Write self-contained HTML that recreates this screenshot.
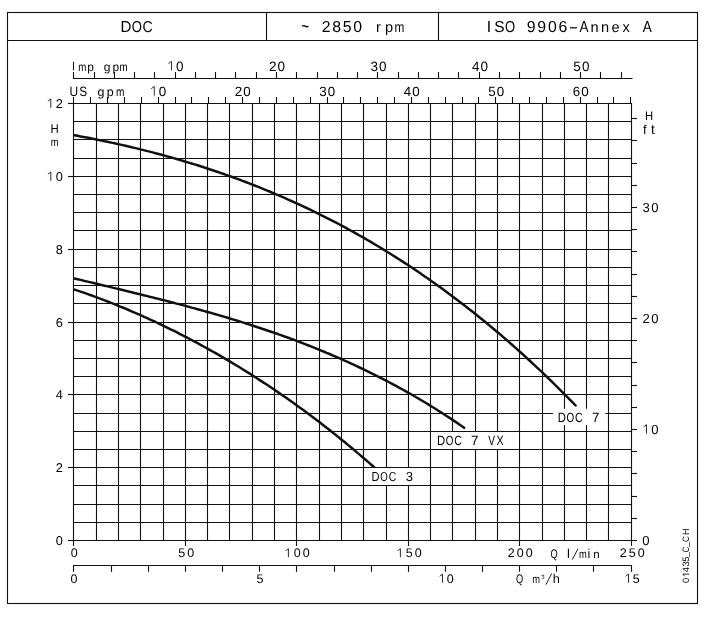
<!DOCTYPE html>
<html><head><meta charset="utf-8"><style>
html,body{margin:0;padding:0;background:#fff;}
svg{display:block;}
text{font-family:"Liberation Sans", sans-serif;fill:#000;text-rendering:geometricPrecision;}
svg{will-change:transform;}
</style></head><body>
<svg width="709" height="619" viewBox="0 0 709 619">
<rect width="709" height="619" fill="#fff"/>
<rect x="7.5" y="12.5" width="690" height="591" fill="none" stroke="#111" stroke-width="1.1"/>
<line x1="7.50" y1="40.50" x2="697.50" y2="40.50" stroke="#111" stroke-width="1.1" stroke-linecap="square"/>
<line x1="266.50" y1="12.50" x2="266.50" y2="40.50" stroke="#111" stroke-width="1.1" stroke-linecap="square"/>
<line x1="438.50" y1="12.50" x2="438.50" y2="40.50" stroke="#111" stroke-width="1.1" stroke-linecap="square"/>
<text transform="translate(126.00,31.80) scale(0.953,1.000)" text-anchor="middle" font-size="15.84">D</text>
<text transform="translate(136.90,31.80) scale(0.826,1.000)" text-anchor="middle" font-size="15.84">O</text>
<text transform="translate(147.60,31.80) scale(0.891,1.000)" text-anchor="middle" font-size="15.84">C</text>
<text transform="translate(305.20,33.44) scale(0.850,1.300)" text-anchor="middle" font-size="15.84">~</text>
<text transform="translate(326.14,31.90) scale(1.000,1.000)" text-anchor="middle" font-size="15.84">2</text>
<text transform="translate(336.61,31.90) scale(1.000,1.000)" text-anchor="middle" font-size="15.84">8</text>
<text transform="translate(347.08,31.90) scale(1.000,1.000)" text-anchor="middle" font-size="15.84">5</text>
<text transform="translate(357.55,31.90) scale(1.000,1.000)" text-anchor="middle" font-size="15.84">0</text>
<text transform="translate(378.49,31.90) scale(1.000,1.000)" text-anchor="middle" font-size="14.58">r</text>
<text transform="translate(388.96,31.90) scale(1.000,1.000)" text-anchor="middle" font-size="14.58">p</text>
<text transform="translate(399.43,31.90) scale(0.811,1.000)" text-anchor="middle" font-size="14.58">m</text>
<text transform="translate(489.00,31.90) scale(1.000,1.000)" text-anchor="middle" font-size="15.84">I</text>
<text transform="translate(499.55,31.90) scale(0.980,1.000)" text-anchor="middle" font-size="15.84">S</text>
<text transform="translate(510.10,31.90) scale(0.826,1.000)" text-anchor="middle" font-size="15.84">O</text>
<text transform="translate(531.20,31.90) scale(1.000,1.000)" text-anchor="middle" font-size="15.84">9</text>
<text transform="translate(541.75,31.90) scale(1.000,1.000)" text-anchor="middle" font-size="15.84">9</text>
<text transform="translate(552.30,31.90) scale(1.000,1.000)" text-anchor="middle" font-size="15.84">0</text>
<text transform="translate(562.85,31.90) scale(1.000,1.000)" text-anchor="middle" font-size="15.84">6</text>
<text transform="translate(573.40,31.90) scale(1.800,1.000)" text-anchor="middle" font-size="15.84">-</text>
<text transform="translate(583.95,31.90) scale(0.851,1.000)" text-anchor="middle" font-size="15.84">A</text>
<text transform="translate(594.50,31.90) scale(1.000,1.000)" text-anchor="middle" font-size="14.58">n</text>
<text transform="translate(605.05,31.90) scale(1.000,1.000)" text-anchor="middle" font-size="14.58">n</text>
<text transform="translate(615.60,31.90) scale(1.000,1.000)" text-anchor="middle" font-size="14.58">e</text>
<text transform="translate(626.15,31.90) scale(1.000,1.000)" text-anchor="middle" font-size="14.58">x</text>
<text transform="translate(647.25,31.90) scale(0.851,1.000)" text-anchor="middle" font-size="15.84">A</text>
<line x1="73.50" y1="103.50" x2="73.50" y2="540.50" stroke="#111" stroke-width="1.1" stroke-linecap="square"/>
<line x1="96.50" y1="103.50" x2="96.50" y2="540.50" stroke="#111" stroke-width="1.1" stroke-linecap="square"/>
<line x1="118.50" y1="103.50" x2="118.50" y2="540.50" stroke="#111" stroke-width="1.1" stroke-linecap="square"/>
<line x1="140.50" y1="103.50" x2="140.50" y2="540.50" stroke="#111" stroke-width="1.1" stroke-linecap="square"/>
<line x1="163.50" y1="103.50" x2="163.50" y2="540.50" stroke="#111" stroke-width="1.1" stroke-linecap="square"/>
<line x1="185.50" y1="103.50" x2="185.50" y2="540.50" stroke="#111" stroke-width="1.1" stroke-linecap="square"/>
<line x1="207.50" y1="103.50" x2="207.50" y2="540.50" stroke="#111" stroke-width="1.1" stroke-linecap="square"/>
<line x1="229.50" y1="103.50" x2="229.50" y2="540.50" stroke="#111" stroke-width="1.1" stroke-linecap="square"/>
<line x1="252.50" y1="103.50" x2="252.50" y2="540.50" stroke="#111" stroke-width="1.1" stroke-linecap="square"/>
<line x1="274.50" y1="103.50" x2="274.50" y2="540.50" stroke="#111" stroke-width="1.1" stroke-linecap="square"/>
<line x1="296.50" y1="103.50" x2="296.50" y2="540.50" stroke="#111" stroke-width="1.1" stroke-linecap="square"/>
<line x1="319.50" y1="103.50" x2="319.50" y2="540.50" stroke="#111" stroke-width="1.1" stroke-linecap="square"/>
<line x1="341.50" y1="103.50" x2="341.50" y2="540.50" stroke="#111" stroke-width="1.1" stroke-linecap="square"/>
<line x1="363.50" y1="103.50" x2="363.50" y2="540.50" stroke="#111" stroke-width="1.1" stroke-linecap="square"/>
<line x1="386.50" y1="103.50" x2="386.50" y2="540.50" stroke="#111" stroke-width="1.1" stroke-linecap="square"/>
<line x1="408.50" y1="103.50" x2="408.50" y2="540.50" stroke="#111" stroke-width="1.1" stroke-linecap="square"/>
<line x1="430.50" y1="103.50" x2="430.50" y2="540.50" stroke="#111" stroke-width="1.1" stroke-linecap="square"/>
<line x1="452.50" y1="103.50" x2="452.50" y2="540.50" stroke="#111" stroke-width="1.1" stroke-linecap="square"/>
<line x1="475.50" y1="103.50" x2="475.50" y2="540.50" stroke="#111" stroke-width="1.1" stroke-linecap="square"/>
<line x1="497.50" y1="103.50" x2="497.50" y2="540.50" stroke="#111" stroke-width="1.1" stroke-linecap="square"/>
<line x1="519.50" y1="103.50" x2="519.50" y2="540.50" stroke="#111" stroke-width="1.1" stroke-linecap="square"/>
<line x1="542.50" y1="103.50" x2="542.50" y2="540.50" stroke="#111" stroke-width="1.1" stroke-linecap="square"/>
<line x1="564.50" y1="103.50" x2="564.50" y2="540.50" stroke="#111" stroke-width="1.1" stroke-linecap="square"/>
<line x1="586.50" y1="103.50" x2="586.50" y2="540.50" stroke="#111" stroke-width="1.1" stroke-linecap="square"/>
<line x1="608.50" y1="103.50" x2="608.50" y2="540.50" stroke="#111" stroke-width="1.1" stroke-linecap="square"/>
<line x1="631.50" y1="103.50" x2="631.50" y2="540.50" stroke="#111" stroke-width="1.1" stroke-linecap="square"/>
<line x1="73.50" y1="540.50" x2="631.50" y2="540.50" stroke="#111" stroke-width="1.1" stroke-linecap="square"/>
<line x1="73.50" y1="522.50" x2="631.50" y2="522.50" stroke="#111" stroke-width="1.1" stroke-linecap="square"/>
<line x1="73.50" y1="504.50" x2="631.50" y2="504.50" stroke="#111" stroke-width="1.1" stroke-linecap="square"/>
<line x1="73.50" y1="485.50" x2="631.50" y2="485.50" stroke="#111" stroke-width="1.1" stroke-linecap="square"/>
<line x1="73.50" y1="467.50" x2="631.50" y2="467.50" stroke="#111" stroke-width="1.1" stroke-linecap="square"/>
<line x1="73.50" y1="449.50" x2="631.50" y2="449.50" stroke="#111" stroke-width="1.1" stroke-linecap="square"/>
<line x1="73.50" y1="431.50" x2="631.50" y2="431.50" stroke="#111" stroke-width="1.1" stroke-linecap="square"/>
<line x1="73.50" y1="413.50" x2="631.50" y2="413.50" stroke="#111" stroke-width="1.1" stroke-linecap="square"/>
<line x1="73.50" y1="394.50" x2="631.50" y2="394.50" stroke="#111" stroke-width="1.1" stroke-linecap="square"/>
<line x1="73.50" y1="376.50" x2="631.50" y2="376.50" stroke="#111" stroke-width="1.1" stroke-linecap="square"/>
<line x1="73.50" y1="358.50" x2="631.50" y2="358.50" stroke="#111" stroke-width="1.1" stroke-linecap="square"/>
<line x1="73.50" y1="340.50" x2="631.50" y2="340.50" stroke="#111" stroke-width="1.1" stroke-linecap="square"/>
<line x1="73.50" y1="322.50" x2="631.50" y2="322.50" stroke="#111" stroke-width="1.1" stroke-linecap="square"/>
<line x1="73.50" y1="303.50" x2="631.50" y2="303.50" stroke="#111" stroke-width="1.1" stroke-linecap="square"/>
<line x1="73.50" y1="285.50" x2="631.50" y2="285.50" stroke="#111" stroke-width="1.1" stroke-linecap="square"/>
<line x1="73.50" y1="267.50" x2="631.50" y2="267.50" stroke="#111" stroke-width="1.1" stroke-linecap="square"/>
<line x1="73.50" y1="249.50" x2="631.50" y2="249.50" stroke="#111" stroke-width="1.1" stroke-linecap="square"/>
<line x1="73.50" y1="230.50" x2="631.50" y2="230.50" stroke="#111" stroke-width="1.1" stroke-linecap="square"/>
<line x1="73.50" y1="212.50" x2="631.50" y2="212.50" stroke="#111" stroke-width="1.1" stroke-linecap="square"/>
<line x1="73.50" y1="194.50" x2="631.50" y2="194.50" stroke="#111" stroke-width="1.1" stroke-linecap="square"/>
<line x1="73.50" y1="176.50" x2="631.50" y2="176.50" stroke="#111" stroke-width="1.1" stroke-linecap="square"/>
<line x1="73.50" y1="158.50" x2="631.50" y2="158.50" stroke="#111" stroke-width="1.1" stroke-linecap="square"/>
<line x1="73.50" y1="139.50" x2="631.50" y2="139.50" stroke="#111" stroke-width="1.1" stroke-linecap="square"/>
<line x1="73.50" y1="121.50" x2="631.50" y2="121.50" stroke="#111" stroke-width="1.1" stroke-linecap="square"/>
<line x1="73.50" y1="103.50" x2="631.50" y2="103.50" stroke="#111" stroke-width="1.1" stroke-linecap="square"/>
<line x1="73.50" y1="78.50" x2="632.00" y2="78.50" stroke="#111" stroke-width="1.1" stroke-linecap="square"/>
<line x1="73.50" y1="72.00" x2="73.50" y2="78.50" stroke="#111" stroke-width="1.1" stroke-linecap="butt"/>
<line x1="94.50" y1="72.00" x2="94.50" y2="78.50" stroke="#111" stroke-width="1.1" stroke-linecap="butt"/>
<line x1="114.50" y1="72.00" x2="114.50" y2="78.50" stroke="#111" stroke-width="1.1" stroke-linecap="butt"/>
<line x1="134.50" y1="72.00" x2="134.50" y2="78.50" stroke="#111" stroke-width="1.1" stroke-linecap="butt"/>
<line x1="154.50" y1="72.00" x2="154.50" y2="78.50" stroke="#111" stroke-width="1.1" stroke-linecap="butt"/>
<line x1="175.50" y1="72.00" x2="175.50" y2="78.50" stroke="#111" stroke-width="1.1" stroke-linecap="butt"/>
<line x1="195.50" y1="72.00" x2="195.50" y2="78.50" stroke="#111" stroke-width="1.1" stroke-linecap="butt"/>
<line x1="215.50" y1="72.00" x2="215.50" y2="78.50" stroke="#111" stroke-width="1.1" stroke-linecap="butt"/>
<line x1="235.50" y1="72.00" x2="235.50" y2="78.50" stroke="#111" stroke-width="1.1" stroke-linecap="butt"/>
<line x1="256.50" y1="72.00" x2="256.50" y2="78.50" stroke="#111" stroke-width="1.1" stroke-linecap="butt"/>
<line x1="276.50" y1="72.00" x2="276.50" y2="78.50" stroke="#111" stroke-width="1.1" stroke-linecap="butt"/>
<line x1="296.50" y1="72.00" x2="296.50" y2="78.50" stroke="#111" stroke-width="1.1" stroke-linecap="butt"/>
<line x1="317.50" y1="72.00" x2="317.50" y2="78.50" stroke="#111" stroke-width="1.1" stroke-linecap="butt"/>
<line x1="337.50" y1="72.00" x2="337.50" y2="78.50" stroke="#111" stroke-width="1.1" stroke-linecap="butt"/>
<line x1="357.50" y1="72.00" x2="357.50" y2="78.50" stroke="#111" stroke-width="1.1" stroke-linecap="butt"/>
<line x1="377.50" y1="72.00" x2="377.50" y2="78.50" stroke="#111" stroke-width="1.1" stroke-linecap="butt"/>
<line x1="398.50" y1="72.00" x2="398.50" y2="78.50" stroke="#111" stroke-width="1.1" stroke-linecap="butt"/>
<line x1="418.50" y1="72.00" x2="418.50" y2="78.50" stroke="#111" stroke-width="1.1" stroke-linecap="butt"/>
<line x1="438.50" y1="72.00" x2="438.50" y2="78.50" stroke="#111" stroke-width="1.1" stroke-linecap="butt"/>
<line x1="458.50" y1="72.00" x2="458.50" y2="78.50" stroke="#111" stroke-width="1.1" stroke-linecap="butt"/>
<line x1="479.50" y1="72.00" x2="479.50" y2="78.50" stroke="#111" stroke-width="1.1" stroke-linecap="butt"/>
<line x1="499.50" y1="72.00" x2="499.50" y2="78.50" stroke="#111" stroke-width="1.1" stroke-linecap="butt"/>
<line x1="519.50" y1="72.00" x2="519.50" y2="78.50" stroke="#111" stroke-width="1.1" stroke-linecap="butt"/>
<line x1="540.50" y1="72.00" x2="540.50" y2="78.50" stroke="#111" stroke-width="1.1" stroke-linecap="butt"/>
<line x1="560.50" y1="72.00" x2="560.50" y2="78.50" stroke="#111" stroke-width="1.1" stroke-linecap="butt"/>
<line x1="580.50" y1="72.00" x2="580.50" y2="78.50" stroke="#111" stroke-width="1.1" stroke-linecap="butt"/>
<line x1="600.50" y1="72.00" x2="600.50" y2="78.50" stroke="#111" stroke-width="1.1" stroke-linecap="butt"/>
<line x1="621.50" y1="72.00" x2="621.50" y2="78.50" stroke="#111" stroke-width="1.1" stroke-linecap="butt"/>
<path d="M171.57,70.60 V61.30 L168.50,63.62" fill="none" stroke="#222" stroke-width="0.95" stroke-linejoin="miter"/>
<text transform="translate(179.87,70.60) scale(1.000,1.000)" text-anchor="middle" font-size="13.52">0</text>
<text transform="translate(272.74,70.60) scale(1.000,1.000)" text-anchor="middle" font-size="13.52">2</text>
<text transform="translate(281.34,70.60) scale(1.000,1.000)" text-anchor="middle" font-size="13.52">0</text>
<text transform="translate(374.21,70.60) scale(1.000,1.000)" text-anchor="middle" font-size="13.52">3</text>
<text transform="translate(382.81,70.60) scale(1.000,1.000)" text-anchor="middle" font-size="13.52">0</text>
<text transform="translate(475.67,70.60) scale(0.997,1.000)" text-anchor="middle" font-size="13.52">4</text>
<text transform="translate(484.27,70.60) scale(1.000,1.000)" text-anchor="middle" font-size="13.52">0</text>
<text transform="translate(577.14,70.60) scale(1.000,1.000)" text-anchor="middle" font-size="13.52">5</text>
<text transform="translate(585.74,70.60) scale(1.000,1.000)" text-anchor="middle" font-size="13.52">0</text>
<line x1="73.50" y1="61.80" x2="73.50" y2="70.20" stroke="#111" stroke-width="1.1" stroke-linecap="butt"/>
<text transform="translate(82.30,70.80) scale(0.811,1.000)" text-anchor="middle" font-size="12.03">m</text>
<text transform="translate(90.60,70.80) scale(1.000,1.000)" text-anchor="middle" font-size="12.03">p</text>
<text transform="translate(107.00,70.80) scale(1.000,1.000)" text-anchor="middle" font-size="12.03">g</text>
<text transform="translate(115.80,70.80) scale(1.000,1.000)" text-anchor="middle" font-size="12.03">p</text>
<text transform="translate(123.60,70.80) scale(0.811,1.000)" text-anchor="middle" font-size="12.03">m</text>
<line x1="73.50" y1="97.00" x2="73.50" y2="103.50" stroke="#111" stroke-width="1.1" stroke-linecap="butt"/>
<line x1="90.50" y1="97.00" x2="90.50" y2="103.50" stroke="#111" stroke-width="1.1" stroke-linecap="butt"/>
<line x1="107.50" y1="97.00" x2="107.50" y2="103.50" stroke="#111" stroke-width="1.1" stroke-linecap="butt"/>
<line x1="124.50" y1="97.00" x2="124.50" y2="103.50" stroke="#111" stroke-width="1.1" stroke-linecap="butt"/>
<line x1="141.50" y1="97.00" x2="141.50" y2="103.50" stroke="#111" stroke-width="1.1" stroke-linecap="butt"/>
<line x1="158.50" y1="97.00" x2="158.50" y2="103.50" stroke="#111" stroke-width="1.1" stroke-linecap="butt"/>
<line x1="175.50" y1="97.00" x2="175.50" y2="103.50" stroke="#111" stroke-width="1.1" stroke-linecap="butt"/>
<line x1="191.50" y1="97.00" x2="191.50" y2="103.50" stroke="#111" stroke-width="1.1" stroke-linecap="butt"/>
<line x1="208.50" y1="97.00" x2="208.50" y2="103.50" stroke="#111" stroke-width="1.1" stroke-linecap="butt"/>
<line x1="225.50" y1="97.00" x2="225.50" y2="103.50" stroke="#111" stroke-width="1.1" stroke-linecap="butt"/>
<line x1="242.50" y1="97.00" x2="242.50" y2="103.50" stroke="#111" stroke-width="1.1" stroke-linecap="butt"/>
<line x1="259.50" y1="97.00" x2="259.50" y2="103.50" stroke="#111" stroke-width="1.1" stroke-linecap="butt"/>
<line x1="276.50" y1="97.00" x2="276.50" y2="103.50" stroke="#111" stroke-width="1.1" stroke-linecap="butt"/>
<line x1="293.50" y1="97.00" x2="293.50" y2="103.50" stroke="#111" stroke-width="1.1" stroke-linecap="butt"/>
<line x1="310.50" y1="97.00" x2="310.50" y2="103.50" stroke="#111" stroke-width="1.1" stroke-linecap="butt"/>
<line x1="327.50" y1="97.00" x2="327.50" y2="103.50" stroke="#111" stroke-width="1.1" stroke-linecap="butt"/>
<line x1="343.50" y1="97.00" x2="343.50" y2="103.50" stroke="#111" stroke-width="1.1" stroke-linecap="butt"/>
<line x1="360.50" y1="97.00" x2="360.50" y2="103.50" stroke="#111" stroke-width="1.1" stroke-linecap="butt"/>
<line x1="377.50" y1="97.00" x2="377.50" y2="103.50" stroke="#111" stroke-width="1.1" stroke-linecap="butt"/>
<line x1="394.50" y1="97.00" x2="394.50" y2="103.50" stroke="#111" stroke-width="1.1" stroke-linecap="butt"/>
<line x1="411.50" y1="97.00" x2="411.50" y2="103.50" stroke="#111" stroke-width="1.1" stroke-linecap="butt"/>
<line x1="428.50" y1="97.00" x2="428.50" y2="103.50" stroke="#111" stroke-width="1.1" stroke-linecap="butt"/>
<line x1="445.50" y1="97.00" x2="445.50" y2="103.50" stroke="#111" stroke-width="1.1" stroke-linecap="butt"/>
<line x1="462.50" y1="97.00" x2="462.50" y2="103.50" stroke="#111" stroke-width="1.1" stroke-linecap="butt"/>
<line x1="478.50" y1="97.00" x2="478.50" y2="103.50" stroke="#111" stroke-width="1.1" stroke-linecap="butt"/>
<line x1="495.50" y1="97.00" x2="495.50" y2="103.50" stroke="#111" stroke-width="1.1" stroke-linecap="butt"/>
<line x1="512.50" y1="97.00" x2="512.50" y2="103.50" stroke="#111" stroke-width="1.1" stroke-linecap="butt"/>
<line x1="529.50" y1="97.00" x2="529.50" y2="103.50" stroke="#111" stroke-width="1.1" stroke-linecap="butt"/>
<line x1="546.50" y1="97.00" x2="546.50" y2="103.50" stroke="#111" stroke-width="1.1" stroke-linecap="butt"/>
<line x1="563.50" y1="97.00" x2="563.50" y2="103.50" stroke="#111" stroke-width="1.1" stroke-linecap="butt"/>
<line x1="580.50" y1="97.00" x2="580.50" y2="103.50" stroke="#111" stroke-width="1.1" stroke-linecap="butt"/>
<line x1="597.50" y1="97.00" x2="597.50" y2="103.50" stroke="#111" stroke-width="1.1" stroke-linecap="butt"/>
<line x1="613.50" y1="97.00" x2="613.50" y2="103.50" stroke="#111" stroke-width="1.1" stroke-linecap="butt"/>
<line x1="630.50" y1="97.00" x2="630.50" y2="103.50" stroke="#111" stroke-width="1.1" stroke-linecap="butt"/>
<path d="M154.29,95.60 V86.40 L151.25,88.70" fill="none" stroke="#222" stroke-width="0.95" stroke-linejoin="miter"/>
<text transform="translate(162.59,95.60) scale(1.000,1.000)" text-anchor="middle" font-size="13.37">0</text>
<text transform="translate(238.48,95.60) scale(1.000,1.000)" text-anchor="middle" font-size="13.37">2</text>
<text transform="translate(247.08,95.60) scale(1.000,1.000)" text-anchor="middle" font-size="13.37">0</text>
<text transform="translate(322.97,95.60) scale(1.000,1.000)" text-anchor="middle" font-size="13.37">3</text>
<text transform="translate(331.57,95.60) scale(1.000,1.000)" text-anchor="middle" font-size="13.37">0</text>
<text transform="translate(407.46,95.60) scale(0.997,1.000)" text-anchor="middle" font-size="13.37">4</text>
<text transform="translate(416.06,95.60) scale(1.000,1.000)" text-anchor="middle" font-size="13.37">0</text>
<text transform="translate(491.95,95.60) scale(1.000,1.000)" text-anchor="middle" font-size="13.37">5</text>
<text transform="translate(500.55,95.60) scale(1.000,1.000)" text-anchor="middle" font-size="13.37">0</text>
<text transform="translate(576.44,95.60) scale(1.000,1.000)" text-anchor="middle" font-size="13.37">6</text>
<text transform="translate(585.04,95.60) scale(1.000,1.000)" text-anchor="middle" font-size="13.37">0</text>
<text transform="translate(73.70,95.60) scale(0.884,1.000)" text-anchor="middle" font-size="13.52">U</text>
<text transform="translate(83.10,95.60) scale(0.872,1.000)" text-anchor="middle" font-size="13.52">S</text>
<text transform="translate(101.00,95.60) scale(1.000,1.000)" text-anchor="middle" font-size="12.44">g</text>
<text transform="translate(110.30,95.60) scale(1.000,1.000)" text-anchor="middle" font-size="12.44">p</text>
<text transform="translate(120.10,95.60) scale(0.811,1.000)" text-anchor="middle" font-size="12.44">m</text>
<line x1="68.00" y1="540.50" x2="73.50" y2="540.50" stroke="#111" stroke-width="1.1" stroke-linecap="butt"/>
<text transform="translate(59.30,544.75) scale(1.000,1.000)" text-anchor="middle" font-size="12.79">0</text>
<line x1="68.00" y1="467.50" x2="73.50" y2="467.50" stroke="#111" stroke-width="1.1" stroke-linecap="butt"/>
<text transform="translate(59.30,471.75) scale(1.000,1.000)" text-anchor="middle" font-size="12.79">2</text>
<line x1="68.00" y1="394.50" x2="73.50" y2="394.50" stroke="#111" stroke-width="1.1" stroke-linecap="butt"/>
<text transform="translate(59.30,398.75) scale(0.997,1.000)" text-anchor="middle" font-size="12.79">4</text>
<line x1="68.00" y1="322.50" x2="73.50" y2="322.50" stroke="#111" stroke-width="1.1" stroke-linecap="butt"/>
<text transform="translate(59.30,326.75) scale(1.000,1.000)" text-anchor="middle" font-size="12.79">6</text>
<line x1="68.00" y1="249.50" x2="73.50" y2="249.50" stroke="#111" stroke-width="1.1" stroke-linecap="butt"/>
<text transform="translate(59.30,253.75) scale(1.000,1.000)" text-anchor="middle" font-size="12.79">8</text>
<line x1="68.00" y1="176.50" x2="73.50" y2="176.50" stroke="#111" stroke-width="1.1" stroke-linecap="butt"/>
<path d="M50.80,180.75 V171.95 L47.90,174.15" fill="none" stroke="#222" stroke-width="0.95" stroke-linejoin="miter"/>
<text transform="translate(59.30,180.75) scale(1.000,1.000)" text-anchor="middle" font-size="12.79">0</text>
<line x1="68.00" y1="103.50" x2="73.50" y2="103.50" stroke="#111" stroke-width="1.1" stroke-linecap="butt"/>
<path d="M50.80,107.75 V98.95 L47.90,101.15" fill="none" stroke="#222" stroke-width="0.95" stroke-linejoin="miter"/>
<text transform="translate(59.30,107.75) scale(1.000,1.000)" text-anchor="middle" font-size="12.79">2</text>
<text transform="translate(54.60,132.80) scale(0.899,1.000)" text-anchor="middle" font-size="12.65">H</text>
<text transform="translate(54.60,145.70) scale(0.811,1.000)" text-anchor="middle" font-size="11.63">m</text>
<line x1="631.50" y1="540.50" x2="637.00" y2="540.50" stroke="#111" stroke-width="1.1" stroke-linecap="butt"/>
<line x1="631.50" y1="518.50" x2="637.00" y2="518.50" stroke="#111" stroke-width="1.1" stroke-linecap="butt"/>
<line x1="631.50" y1="496.50" x2="637.00" y2="496.50" stroke="#111" stroke-width="1.1" stroke-linecap="butt"/>
<line x1="631.50" y1="473.50" x2="637.00" y2="473.50" stroke="#111" stroke-width="1.1" stroke-linecap="butt"/>
<line x1="631.50" y1="451.50" x2="637.00" y2="451.50" stroke="#111" stroke-width="1.1" stroke-linecap="butt"/>
<line x1="631.50" y1="429.50" x2="637.00" y2="429.50" stroke="#111" stroke-width="1.1" stroke-linecap="butt"/>
<line x1="631.50" y1="407.50" x2="637.00" y2="407.50" stroke="#111" stroke-width="1.1" stroke-linecap="butt"/>
<line x1="631.50" y1="385.50" x2="637.00" y2="385.50" stroke="#111" stroke-width="1.1" stroke-linecap="butt"/>
<line x1="631.50" y1="362.50" x2="637.00" y2="362.50" stroke="#111" stroke-width="1.1" stroke-linecap="butt"/>
<line x1="631.50" y1="340.50" x2="637.00" y2="340.50" stroke="#111" stroke-width="1.1" stroke-linecap="butt"/>
<line x1="631.50" y1="318.50" x2="637.00" y2="318.50" stroke="#111" stroke-width="1.1" stroke-linecap="butt"/>
<line x1="631.50" y1="296.50" x2="637.00" y2="296.50" stroke="#111" stroke-width="1.1" stroke-linecap="butt"/>
<line x1="631.50" y1="274.50" x2="637.00" y2="274.50" stroke="#111" stroke-width="1.1" stroke-linecap="butt"/>
<line x1="631.50" y1="251.50" x2="637.00" y2="251.50" stroke="#111" stroke-width="1.1" stroke-linecap="butt"/>
<line x1="631.50" y1="229.50" x2="637.00" y2="229.50" stroke="#111" stroke-width="1.1" stroke-linecap="butt"/>
<line x1="631.50" y1="207.50" x2="637.00" y2="207.50" stroke="#111" stroke-width="1.1" stroke-linecap="butt"/>
<line x1="631.50" y1="185.50" x2="637.00" y2="185.50" stroke="#111" stroke-width="1.1" stroke-linecap="butt"/>
<line x1="631.50" y1="163.50" x2="637.00" y2="163.50" stroke="#111" stroke-width="1.1" stroke-linecap="butt"/>
<line x1="631.50" y1="140.50" x2="637.00" y2="140.50" stroke="#111" stroke-width="1.1" stroke-linecap="butt"/>
<line x1="631.50" y1="118.50" x2="637.00" y2="118.50" stroke="#111" stroke-width="1.1" stroke-linecap="butt"/>
<text transform="translate(645.80,544.70) scale(1.000,1.000)" text-anchor="middle" font-size="13.08">0</text>
<path d="M646.50,433.70 V424.70 L643.53,426.95" fill="none" stroke="#222" stroke-width="0.95" stroke-linejoin="miter"/>
<text transform="translate(654.80,433.70) scale(1.000,1.000)" text-anchor="middle" font-size="13.08">0</text>
<text transform="translate(646.20,322.70) scale(1.000,1.000)" text-anchor="middle" font-size="13.08">2</text>
<text transform="translate(654.80,322.70) scale(1.000,1.000)" text-anchor="middle" font-size="13.08">0</text>
<text transform="translate(646.20,211.71) scale(1.000,1.000)" text-anchor="middle" font-size="13.08">3</text>
<text transform="translate(654.80,211.71) scale(1.000,1.000)" text-anchor="middle" font-size="13.08">0</text>
<text transform="translate(649.00,119.70) scale(0.899,1.000)" text-anchor="middle" font-size="12.50">H</text>
<text transform="translate(644.70,134.30) scale(1.000,1.000)" text-anchor="middle" font-size="12.75">f</text>
<text transform="translate(653.00,134.30) scale(1.000,1.000)" text-anchor="middle" font-size="13.75">t</text>
<line x1="73.50" y1="540.50" x2="73.50" y2="546.00" stroke="#111" stroke-width="1.1" stroke-linecap="butt"/>
<line x1="185.50" y1="540.50" x2="185.50" y2="546.00" stroke="#111" stroke-width="1.1" stroke-linecap="butt"/>
<line x1="296.50" y1="540.50" x2="296.50" y2="546.00" stroke="#111" stroke-width="1.1" stroke-linecap="butt"/>
<line x1="408.50" y1="540.50" x2="408.50" y2="546.00" stroke="#111" stroke-width="1.1" stroke-linecap="butt"/>
<line x1="519.50" y1="540.50" x2="519.50" y2="546.00" stroke="#111" stroke-width="1.1" stroke-linecap="butt"/>
<line x1="631.50" y1="540.50" x2="631.50" y2="546.00" stroke="#111" stroke-width="1.1" stroke-linecap="butt"/>
<text transform="translate(74.10,557.30) scale(1.000,1.000)" text-anchor="middle" font-size="12.50">0</text>
<text transform="translate(181.60,557.30) scale(1.000,1.000)" text-anchor="middle" font-size="12.50">5</text>
<text transform="translate(190.60,557.30) scale(1.000,1.000)" text-anchor="middle" font-size="12.50">0</text>
<path d="M288.40,557.30 V548.70 L285.56,550.85" fill="none" stroke="#222" stroke-width="0.95" stroke-linejoin="miter"/>
<text transform="translate(297.10,557.30) scale(1.000,1.000)" text-anchor="middle" font-size="12.50">0</text>
<text transform="translate(306.10,557.30) scale(1.000,1.000)" text-anchor="middle" font-size="12.50">0</text>
<path d="M400.40,557.30 V548.70 L397.56,550.85" fill="none" stroke="#222" stroke-width="0.95" stroke-linejoin="miter"/>
<text transform="translate(409.10,557.30) scale(1.000,1.000)" text-anchor="middle" font-size="12.50">5</text>
<text transform="translate(418.10,557.30) scale(1.000,1.000)" text-anchor="middle" font-size="12.50">0</text>
<text transform="translate(511.10,557.30) scale(1.000,1.000)" text-anchor="middle" font-size="12.50">2</text>
<text transform="translate(520.10,557.30) scale(1.000,1.000)" text-anchor="middle" font-size="12.50">0</text>
<text transform="translate(529.10,557.30) scale(1.000,1.000)" text-anchor="middle" font-size="12.50">0</text>
<text transform="translate(623.10,557.30) scale(1.000,1.000)" text-anchor="middle" font-size="12.50">2</text>
<text transform="translate(632.10,557.30) scale(1.000,1.000)" text-anchor="middle" font-size="12.50">5</text>
<text transform="translate(641.10,557.30) scale(1.000,1.000)" text-anchor="middle" font-size="12.50">0</text>
<text transform="translate(554.20,557.60) scale(0.736,1.000)" text-anchor="middle" font-size="12.50">Q</text>
<text transform="translate(568.30,557.60) scale(1.000,1.000)" text-anchor="middle" font-size="12.75">l</text>
<path d="M572.30,559.60 L578.10,548.50" fill="none" stroke="#222" stroke-width="1.0"/>
<text transform="translate(582.80,557.60) scale(0.811,1.000)" text-anchor="middle" font-size="11.50">m</text>
<text transform="translate(589.00,557.60) scale(1.000,1.000)" text-anchor="middle" font-size="12.75">i</text>
<text transform="translate(596.40,557.60) scale(1.000,1.000)" text-anchor="middle" font-size="11.50">n</text>
<line x1="73.50" y1="565.50" x2="631.50" y2="565.50" stroke="#111" stroke-width="1.1" stroke-linecap="square"/>
<line x1="73.50" y1="565.50" x2="73.50" y2="571.80" stroke="#111" stroke-width="1.1" stroke-linecap="butt"/>
<line x1="111.50" y1="565.50" x2="111.50" y2="571.80" stroke="#111" stroke-width="1.1" stroke-linecap="butt"/>
<line x1="148.50" y1="565.50" x2="148.50" y2="571.80" stroke="#111" stroke-width="1.1" stroke-linecap="butt"/>
<line x1="185.50" y1="565.50" x2="185.50" y2="571.80" stroke="#111" stroke-width="1.1" stroke-linecap="butt"/>
<line x1="222.50" y1="565.50" x2="222.50" y2="571.80" stroke="#111" stroke-width="1.1" stroke-linecap="butt"/>
<line x1="259.50" y1="565.50" x2="259.50" y2="571.80" stroke="#111" stroke-width="1.1" stroke-linecap="butt"/>
<line x1="296.50" y1="565.50" x2="296.50" y2="571.80" stroke="#111" stroke-width="1.1" stroke-linecap="butt"/>
<line x1="334.50" y1="565.50" x2="334.50" y2="571.80" stroke="#111" stroke-width="1.1" stroke-linecap="butt"/>
<line x1="371.50" y1="565.50" x2="371.50" y2="571.80" stroke="#111" stroke-width="1.1" stroke-linecap="butt"/>
<line x1="408.50" y1="565.50" x2="408.50" y2="571.80" stroke="#111" stroke-width="1.1" stroke-linecap="butt"/>
<line x1="445.50" y1="565.50" x2="445.50" y2="571.80" stroke="#111" stroke-width="1.1" stroke-linecap="butt"/>
<line x1="482.50" y1="565.50" x2="482.50" y2="571.80" stroke="#111" stroke-width="1.1" stroke-linecap="butt"/>
<line x1="519.50" y1="565.50" x2="519.50" y2="571.80" stroke="#111" stroke-width="1.1" stroke-linecap="butt"/>
<line x1="556.50" y1="565.50" x2="556.50" y2="571.80" stroke="#111" stroke-width="1.1" stroke-linecap="butt"/>
<line x1="593.50" y1="565.50" x2="593.50" y2="571.80" stroke="#111" stroke-width="1.1" stroke-linecap="butt"/>
<line x1="631.50" y1="565.50" x2="631.50" y2="571.80" stroke="#111" stroke-width="1.1" stroke-linecap="butt"/>
<text transform="translate(74.00,582.70) scale(1.000,1.000)" text-anchor="middle" font-size="12.50">0</text>
<text transform="translate(260.00,582.70) scale(1.000,1.000)" text-anchor="middle" font-size="12.50">5</text>
<path d="M442.50,582.70 V574.10 L439.66,576.25" fill="none" stroke="#222" stroke-width="0.95" stroke-linejoin="miter"/>
<text transform="translate(450.20,582.70) scale(1.000,1.000)" text-anchor="middle" font-size="12.50">0</text>
<path d="M628.50,582.70 V574.10 L625.66,576.25" fill="none" stroke="#222" stroke-width="0.95" stroke-linejoin="miter"/>
<text transform="translate(636.20,582.70) scale(1.000,1.000)" text-anchor="middle" font-size="12.50">5</text>
<text transform="translate(519.70,582.70) scale(0.736,1.000)" text-anchor="middle" font-size="12.50">Q</text>
<text transform="translate(536.20,582.70) scale(0.811,1.000)" text-anchor="middle" font-size="11.50">m</text>
<path d="M545.90,584.70 L551.70,573.60" fill="none" stroke="#222" stroke-width="1.0"/>
<text transform="translate(556.40,582.70) scale(1.000,1.000)" text-anchor="middle" font-size="12.75">h</text>
<text transform="translate(542.90,579.10) scale(1.000,1.000)" text-anchor="middle" font-size="6.00">3</text>
<path d="M74.6,135.3 L77.6,135.8 L80.6,136.4 L83.6,137.0 L86.6,137.5 L89.6,138.1 L92.6,138.7 L95.6,139.3 L98.6,139.9 L101.6,140.5 L104.6,141.2 L107.6,141.8 L110.6,142.4 L113.6,143.1 L116.6,143.7 L119.6,144.4 L122.6,145.1 L125.6,145.8 L128.6,146.5 L131.6,147.2 L134.6,147.9 L137.6,148.6 L140.6,149.4 L143.6,150.1 L146.6,150.9 L149.6,151.6 L152.6,152.4 L155.6,153.2 L158.6,154.0 L161.6,154.8 L164.6,155.6 L167.6,156.5 L170.6,157.3 L173.6,158.1 L176.6,159.0 L179.6,159.9 L182.6,160.8 L185.6,161.7 L188.6,162.6 L191.6,163.5 L194.6,164.4 L197.6,165.3 L200.6,166.3 L203.6,167.3 L206.6,168.2 L209.6,169.2 L212.6,170.2 L215.6,171.2 L218.6,172.2 L221.6,173.3 L224.6,174.3 L227.6,175.4 L230.6,176.4 L233.6,177.5 L236.6,178.6 L239.6,179.7 L242.6,180.9 L245.6,182.0 L248.6,183.1 L251.6,184.3 L254.6,185.5 L257.6,186.7 L260.6,187.9 L263.6,189.1 L266.6,190.3 L269.6,191.5 L272.6,192.8 L275.6,194.1 L278.6,195.3 L281.6,196.6 L284.6,197.9 L287.6,199.3 L290.6,200.6 L293.6,202.0 L296.6,203.3 L299.6,204.7 L302.6,206.1 L305.6,207.5 L308.6,208.9 L311.6,210.4 L314.6,211.8 L317.6,213.3 L320.6,214.8 L323.6,216.3 L326.6,217.8 L329.6,219.3 L332.6,220.9 L335.6,222.4 L338.6,224.0 L341.6,225.6 L344.6,227.2 L347.6,228.9 L350.6,230.5 L353.6,232.1 L356.6,233.8 L359.6,235.5 L362.6,237.2 L365.6,238.9 L368.6,240.7 L371.6,242.4 L374.6,244.2 L377.6,246.0 L380.6,247.8 L383.6,249.6 L386.6,251.5 L389.6,253.3 L392.6,255.2 L395.6,257.1 L398.6,259.0 L401.6,260.9 L404.6,262.9 L407.6,264.8 L410.6,266.8 L413.6,268.8 L416.6,270.8 L419.6,272.8 L422.6,274.9 L425.6,277.0 L428.6,279.0 L431.6,281.2 L434.6,283.3 L437.6,285.4 L440.6,287.6 L443.6,289.8 L446.6,292.0 L449.6,294.2 L452.6,296.4 L455.6,298.7 L458.6,300.9 L461.6,303.2 L464.6,305.5 L467.6,307.9 L470.6,310.2 L473.6,312.6 L476.6,315.0 L479.6,317.4 L482.6,319.8 L485.6,322.3 L488.6,324.8 L491.6,327.2 L494.6,329.8 L497.6,332.3 L500.6,334.8 L503.6,337.4 L506.6,340.0 L509.6,342.6 L512.6,345.3 L515.6,347.9 L518.6,350.6 L521.6,353.3 L524.6,356.0 L527.6,358.7 L530.6,361.5 L533.6,364.3 L536.6,367.1 L539.6,369.9 L542.6,372.7 L545.6,375.6 L548.6,378.5 L551.6,381.4 L554.6,384.3 L557.6,387.3 L560.6,390.3 L563.6,393.3 L566.6,396.3 L569.6,399.3 L572.6,402.4 L575.6,405.5" fill="none" stroke="#111" stroke-width="2.5" stroke-linecap="round" stroke-linejoin="round"/>
<path d="M74.6,278.5 L77.6,279.2 L80.6,279.9 L83.6,280.7 L86.6,281.4 L89.6,282.1 L92.6,282.8 L95.6,283.5 L98.6,284.2 L101.6,285.0 L104.6,285.7 L107.6,286.4 L110.6,287.1 L113.6,287.9 L116.6,288.6 L119.6,289.3 L122.6,290.0 L125.6,290.8 L128.6,291.5 L131.6,292.2 L134.6,293.0 L137.6,293.7 L140.6,294.4 L143.6,295.2 L146.6,295.9 L149.6,296.7 L152.6,297.4 L155.6,298.2 L158.6,298.9 L161.6,299.7 L164.6,300.4 L167.6,301.2 L170.6,302.0 L173.6,302.8 L176.6,303.6 L179.6,304.3 L182.6,305.1 L185.6,305.9 L188.6,306.7 L191.6,307.6 L194.6,308.4 L197.6,309.2 L200.6,310.0 L203.6,310.9 L206.6,311.7 L209.6,312.5 L212.6,313.4 L215.6,314.3 L218.6,315.1 L221.6,316.0 L224.6,316.9 L227.6,317.8 L230.6,318.7 L233.6,319.6 L236.6,320.5 L239.6,321.4 L242.6,322.4 L245.6,323.3 L248.6,324.3 L251.6,325.2 L254.6,326.2 L257.6,327.2 L260.6,328.2 L263.6,329.2 L266.6,330.2 L269.6,331.2 L272.6,332.2 L275.6,333.3 L278.6,334.3 L281.6,335.4 L284.6,336.5 L287.6,337.5 L290.6,338.6 L293.6,339.7 L296.6,340.9 L299.6,342.0 L302.6,343.1 L305.6,344.3 L308.6,345.5 L311.6,346.7 L314.6,347.9 L317.6,349.1 L320.6,350.3 L323.6,351.5 L326.6,352.8 L329.6,354.0 L332.6,355.3 L335.6,356.6 L338.6,357.9 L341.6,359.2 L344.6,360.6 L347.6,361.9 L350.6,363.3 L353.6,364.7 L356.6,366.1 L359.6,367.5 L362.6,368.9 L365.6,370.3 L368.6,371.8 L371.6,373.3 L374.6,374.8 L377.6,376.3 L380.6,377.8 L383.6,379.3 L386.6,380.9 L389.6,382.5 L392.6,384.1 L395.6,385.7 L398.6,387.3 L401.6,389.0 L404.6,390.6 L407.6,392.3 L410.6,394.0 L413.6,395.7 L416.6,397.5 L419.6,399.2 L422.6,401.0 L425.6,402.8 L428.6,404.6 L431.6,406.5 L434.6,408.3 L437.6,410.2 L440.6,412.1 L443.6,414.0 L446.6,416.0 L449.6,417.9 L452.6,419.9 L455.6,421.9 L458.6,423.9 L461.6,426.0 L464.1,427.7" fill="none" stroke="#111" stroke-width="2.5" stroke-linecap="round" stroke-linejoin="round"/>
<path d="M74.6,289.6 L77.6,290.6 L80.6,291.6 L83.6,292.6 L86.6,293.7 L89.6,294.8 L92.6,295.8 L95.6,296.9 L98.6,298.1 L101.6,299.2 L104.6,300.3 L107.6,301.5 L110.6,302.7 L113.6,303.8 L116.6,305.0 L119.6,306.3 L122.6,307.5 L125.6,308.7 L128.6,310.0 L131.6,311.3 L134.6,312.6 L137.6,313.9 L140.6,315.2 L143.6,316.6 L146.6,317.9 L149.6,319.3 L152.6,320.7 L155.6,322.0 L158.6,323.5 L161.6,324.9 L164.6,326.3 L167.6,327.8 L170.6,329.3 L173.6,330.7 L176.6,332.2 L179.6,333.8 L182.6,335.3 L185.6,336.8 L188.6,338.4 L191.6,340.0 L194.6,341.6 L197.6,343.2 L200.6,344.8 L203.6,346.5 L206.6,348.1 L209.6,349.8 L212.6,351.5 L215.6,353.2 L218.6,354.9 L221.6,356.6 L224.6,358.4 L227.6,360.1 L230.6,361.9 L233.6,363.7 L236.6,365.5 L239.6,367.3 L242.6,369.2 L245.6,371.1 L248.6,372.9 L251.6,374.8 L254.6,376.7 L257.6,378.7 L260.6,380.6 L263.6,382.6 L266.6,384.5 L269.6,386.5 L272.6,388.5 L275.6,390.6 L278.6,392.6 L281.6,394.7 L284.6,396.7 L287.6,398.8 L290.6,401.0 L293.6,403.1 L296.6,405.2 L299.6,407.4 L302.6,409.6 L305.6,411.8 L308.6,414.0 L311.6,416.2 L314.6,418.5 L317.6,420.8 L320.6,423.1 L323.6,425.4 L326.6,427.7 L329.6,430.1 L332.6,432.4 L335.6,434.8 L338.6,437.2 L341.6,439.7 L344.6,442.1 L347.6,444.6 L350.6,447.0 L353.6,449.5 L356.6,452.1 L359.6,454.6 L362.6,457.2 L365.6,459.8 L368.6,462.4 L371.6,465.0 L374.4,467.5" fill="none" stroke="#111" stroke-width="2.5" stroke-linecap="round" stroke-linejoin="round"/>
<rect x="553.0" y="408.8" width="52.299999999999955" height="16.399999999999977" fill="#fff"/>
<text transform="translate(561.90,421.80) scale(0.848,1.000)" text-anchor="middle" font-size="13.37">D</text>
<text transform="translate(570.33,421.80) scale(0.736,1.000)" text-anchor="middle" font-size="13.37">O</text>
<text transform="translate(578.76,421.80) scale(0.793,1.000)" text-anchor="middle" font-size="13.37">C</text>
<text transform="translate(595.62,421.80) scale(1.000,1.000)" text-anchor="middle" font-size="13.37">7</text>
<rect x="431" y="432" width="88" height="17" fill="#fff"/>
<text transform="translate(441.20,444.90) scale(0.848,1.000)" text-anchor="middle" font-size="13.37">D</text>
<text transform="translate(449.60,444.90) scale(0.736,1.000)" text-anchor="middle" font-size="13.37">O</text>
<text transform="translate(458.00,444.90) scale(0.793,1.000)" text-anchor="middle" font-size="13.37">C</text>
<text transform="translate(474.80,444.90) scale(1.000,1.000)" text-anchor="middle" font-size="13.37">7</text>
<text transform="translate(491.60,444.90) scale(0.763,1.000)" text-anchor="middle" font-size="13.37">V</text>
<text transform="translate(500.00,444.90) scale(0.805,1.000)" text-anchor="middle" font-size="13.37">X</text>
<rect x="364" y="468" width="66" height="17" fill="#fff"/>
<text transform="translate(375.40,481.20) scale(0.848,1.000)" text-anchor="middle" font-size="13.08">D</text>
<text transform="translate(383.90,481.20) scale(0.736,1.000)" text-anchor="middle" font-size="13.08">O</text>
<text transform="translate(392.40,481.20) scale(0.793,1.000)" text-anchor="middle" font-size="13.08">C</text>
<text transform="translate(409.40,481.20) scale(1.000,1.000)" text-anchor="middle" font-size="13.08">3</text>
<g transform="translate(689.3,583.6) rotate(-90)">
<text transform="translate(3.20,0.00) scale(1.000,1.000)" text-anchor="middle" font-size="9.30">0</text>
<path d="M9.50,0.00 V-6.40 L7.39,-4.80" fill="none" stroke="#222" stroke-width="0.95" stroke-linejoin="miter"/>
<text transform="translate(13.90,0.00) scale(1.000,1.000)" text-anchor="middle" font-size="9.30">4</text>
<text transform="translate(19.60,0.00) scale(1.000,1.000)" text-anchor="middle" font-size="9.30">3</text>
<text transform="translate(24.50,0.00) scale(1.000,1.000)" text-anchor="middle" font-size="9.30">5</text>
<text transform="translate(29.10,-1.00) scale(0.945,1.000)" text-anchor="middle" font-size="9.30">_</text>
<text transform="translate(34.00,0.00) scale(0.869,1.000)" text-anchor="middle" font-size="9.30">C</text>
<text transform="translate(39.20,-1.00) scale(0.945,1.000)" text-anchor="middle" font-size="9.30">_</text>
<text transform="translate(44.60,0.00) scale(0.869,1.000)" text-anchor="middle" font-size="9.30">C</text>
<text transform="translate(51.80,0.00) scale(0.985,1.000)" text-anchor="middle" font-size="9.30">H</text>
</g>
</svg>
</body></html>
